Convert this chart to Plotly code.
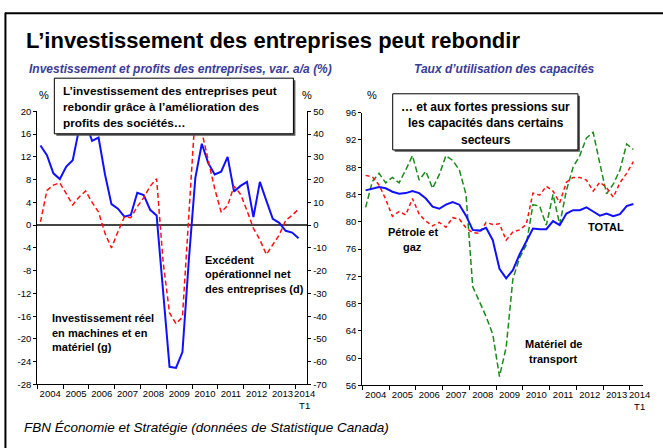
import plotly.graph_objects as go

# ---------------- data ----------------
quarters = [f"{y}T{q}" for y in range(2004, 2014) for q in range(1, 5)] + ["2014T1"]

# Left chart: business investment (left axis, %) and net operating surplus (right axis, %)
investissement = [14.0, 12.3, 9.1, 8.1,
                  10.3, 11.4, 17.0, 18.0,
                  14.8, 15.4, 8.9, 3.7,
                  2.9, 1.5, 1.8, 5.7,
                  5.3, 2.7, 1.7, -12.0,
                  -24.9, -25.1, -22.3, -6.0,
                  8.3, 14.3, 10.9, 8.9,
                  9.4, 12.0, 5.9, 6.9,
                  7.6, 1.4, 7.6, 4.3,
                  1.1, 0.4, -1.0, -1.3,
                  -2.3]
excedent = [1.4, 15.3, 17.6, 18.6,
            13.8, 8.9, 12.4, 15.0,
            10.0, 5.7, -3.6, -10.0,
            -2.9, 3.6, 3.3, 8.1,
            12.1, 17.1, 20.4, -16.0,
            -38.6, -43.3, -40.4, 5.0,
            50.0, 41.0, 28.0, 16.0,
            5.7, 8.6, 17.1, 13.6,
            6.4, -1.4, -6.4, -12.9,
            -8.6, -4.3, 2.1, 4.3,
            7.1]

# Right chart: capacity utilisation (%)
total = [84.6, 84.9, 85.1, 84.9,
         84.4, 84.1, 84.2, 84.5,
         84.2, 83.4, 82.2, 81.9,
         82.5, 82.9, 82.5, 80.9,
         78.8, 78.7, 79.1, 77.3,
         73.1, 71.7, 72.9, 75.2,
         77.1, 79.0, 78.9, 78.9,
         80.1, 79.5, 81.2, 81.7,
         81.7, 82.1, 81.5, 80.9,
         81.2, 80.8, 81.1, 82.3,
         82.6]
petrole_gaz = [86.8, 86.6, 85.4, 83.3,
               80.8, 81.5, 81.0, 83.4,
               81.1, 80.1, 79.4, 79.9,
               79.2, 80.6, 80.4, 79.1,
               78.4, 78.3, 79.9, 79.6,
               79.7, 77.3, 78.5, 78.8,
               79.6, 84.2, 83.9, 85.2,
               84.5, 82.8, 85.8, 86.5,
               86.5, 86.1, 84.5, 85.8,
               85.0, 83.6, 85.7, 87.1,
               88.8]
materiel_transport = [82.1, 85.9, 87.1, 85.7,
                      86.5, 85.7, 87.6, 89.7,
                      86.1, 87.4, 84.9, 86.9,
                      89.7, 89.0, 87.6, 84.0,
                      70.5, 68.3, 66.1, 63.5,
                      57.3, 61.6, 71.6, 74.7,
                      76.6, 82.5, 82.3, 79.5,
                      84.0, 79.6, 84.6, 88.0,
                      89.7, 92.3, 93.1, 88.5,
                      84.1, 85.5, 87.6, 91.4,
                      90.6]

year_labels = ["2004", "2005", "2006", "2007", "2008", "2009", "2010",
               "2011", "2012", "2013", "2014<br>T1"]
left_ticks = [-28, -24, -20, -16, -12, -8, -4, 0, 4, 8, 12, 16, 20]
right_ticks = [-70, -60, -50, -40, -30, -20, -10, 0, 10, 20, 30, 40, 50]
cap_ticks = [56, 60, 64, 68, 72, 76, 80, 84, 88, 92, 96]

# ---------------- helpers ----------------
W, H = 663, 448


def px(x):
    return x / W


def py(y):
    return 1 - y / H


xq = [int(q[:4]) + (int(q[-1]) - 0.5) / 4 for q in quarters]
label_pos = [2004.5 + i for i in range(10)] + [2014.36]
year_bounds = list(range(2004, 2015))

NARROW = "Liberation Sans Narrow, Arial Narrow, Liberation Sans, Arial, sans-serif"
BOLD = "Liberation Sans, Arial, sans-serif"
tickfont = dict(family=NARROW, size=9.5, color="black")

fig = go.Figure()

# Left chart
fig.add_trace(go.Scatter(x=xq, y=investissement, mode="lines",
                         line=dict(color="#1010ff", width=2),
                         xaxis="x", yaxis="y", showlegend=False))
fig.add_trace(go.Scatter(x=xq, y=excedent, mode="lines",
                         line=dict(color="#ff1010", width=1.5, dash="5px,3px"),
                         xaxis="x", yaxis="y2", showlegend=False))
# Right chart
fig.add_trace(go.Scatter(x=xq, y=materiel_transport, mode="lines",
                         line=dict(color="#1a8a1a", width=1.5, dash="6px,3px"),
                         xaxis="x2", yaxis="y3", showlegend=False))
fig.add_trace(go.Scatter(x=xq, y=petrole_gaz, mode="lines",
                         line=dict(color="#ff1010", width=1.5, dash="4px,3px"),
                         xaxis="x2", yaxis="y3", showlegend=False))
fig.add_trace(go.Scatter(x=xq, y=total, mode="lines",
                         line=dict(color="#1010ff", width=2),
                         xaxis="x2", yaxis="y3", showlegend=False))

xcommon = dict(showline=True, linecolor="black", linewidth=1, ticks="",
               tickmode="array", tickvals=label_pos, ticktext=year_labels,
               tickangle=0, tickfont=tickfont, showgrid=False, zeroline=False,
               minor=dict(tickmode="array", tickvals=year_bounds, ticks="outside",
                          ticklen=4, tickwidth=1, tickcolor="black", showgrid=False))
ycommon = dict(showline=True, linecolor="black", linewidth=1, ticks="outside",
               ticklen=3, tickwidth=1, tickcolor="black", tickfont=tickfont,
               showgrid=False, tickmode="array")

fig.update_layout(
    width=W, height=H,
    margin=dict(l=0, r=0, t=0, b=0),
    paper_bgcolor="white", plot_bgcolor="white",
    xaxis=dict(domain=[px(37.7), px(311)], range=[2004, 2014.46], anchor="y", **xcommon),
    yaxis=dict(domain=[py(388), py(108)], range=[-28, 20], tickvals=left_ticks,
               ticktext=[str(v) for v in left_ticks],
               zeroline=True, zerolinecolor="#444444", zerolinewidth=1.5,
               anchor="x", **ycommon),
    yaxis2=dict(overlaying="y", side="right", range=[-70, 50], tickvals=right_ticks,
                ticktext=[str(v) for v in right_ticks],
                anchor="x", zeroline=False, **ycommon),
    xaxis2=dict(domain=[px(366.7), px(650.7)], range=[2004, 2014.48], anchor="y3", **xcommon),
    yaxis3=dict(domain=[py(389), py(109.3)], range=[56, 96], tickvals=cap_ticks,
                ticktext=[str(v) for v in cap_ticks],
                anchor="x2", zeroline=False, **ycommon),
)

shapes = []
# outer frame (top & left edges visible)
shapes.append(dict(type="line", xref="paper", yref="paper",
                   x0=px(5), x1=px(700), y0=py(7.5), y1=py(7.5),
                   line=dict(color="black", width=2)))
shapes.append(dict(type="line", xref="paper", yref="paper",
                   x0=px(5.5), x1=px(5.5), y0=py(7), y1=py(460),
                   line=dict(color="black", width=2)))


def box(x0, y0, x1, y1):
    shapes.append(dict(type="rect", xref="paper", yref="paper", layer="above",
                       x0=px(x0 + 2), x1=px(x1 + 2), y0=py(y1 + 2), y1=py(y0 + 2),
                       fillcolor="#555555", line=dict(width=0)))
    shapes.append(dict(type="rect", xref="paper", yref="paper", layer="above",
                       x0=px(x0), x1=px(x1), y0=py(y1), y1=py(y0),
                       fillcolor="white", line=dict(color="black", width=1)))


box(55, 74, 297, 131)
box(397.5, 90, 585, 147.5)
fig.update_layout(shapes=shapes)

ann = []


def text(x, y, s, size=12, bold=True, italic=False, color="black",
         xanchor="left", family=BOLD):
    if bold:
        s = f"<b>{s}</b>"
    if italic:
        s = f"<i>{s}</i>"
    ann.append(dict(x=px(x), y=py(y), xref="paper", yref="paper", text=s,
                    showarrow=False, xanchor=xanchor, yanchor="middle",
                    font=dict(family=family, size=size, color=color)))


def lines(x, y0, step, items, **kw):
    for i, s in enumerate(items):
        text(x, y0 + i * step, s, **kw)


text(24, 35, "L’investissement des entreprises peut rebondir", size=22)
text(182.5, 65, "Investissement et profits des entreprises, var. a/a (%)", size=12,
     italic=True, color="#3b3b98", xanchor="center")
text(511, 65, "Taux d’utilisation des capacités", size=12,
     italic=True, color="#3b3b98", xanchor="center")
text(45, 91, "%", size=11, bold=False, xanchor="center")
text(311, 91, "%", size=11, bold=False, xanchor="center")
text(377, 91, "%", size=11, bold=False, xanchor="center")
lines(62, 87, 16.7, ["L’investissement des entreprises peut",
                     "rebondir grâce à l’amélioration des",
                     "profits des sociétés…"], size=11.8)
lines(491.5, 103.5, 16.7, ["… et aux fortes pressions sur",
                           "les capacités dans certains",
                           "secteurs"], size=12, xanchor="center")
lines(205, 260, 15, ["Excédent", "opérationnel net", "des entreprises (d)"], size=11)
lines(51, 320, 15, ["Investissement réel", "en machines et en", "matériel (g)"], size=11)
lines(418, 232, 15, ["Pétrole et", "gaz"], size=11, xanchor="center")
text(613, 227, "TOTAL", size=11, xanchor="center")
lines(560, 347, 15, ["Matériel de", "transport"], size=11, xanchor="center")
text(22, 432, "FBN Économie et Stratégie (données de Statistique Canada)", size=13.5,
     bold=False, italic=True)

fig.update_layout(annotations=ann)

fig.write_html("out.html", config={"displayModeBar": False},
               post_script="document.body.style.margin='0';document.body.style.overflow='hidden';")
